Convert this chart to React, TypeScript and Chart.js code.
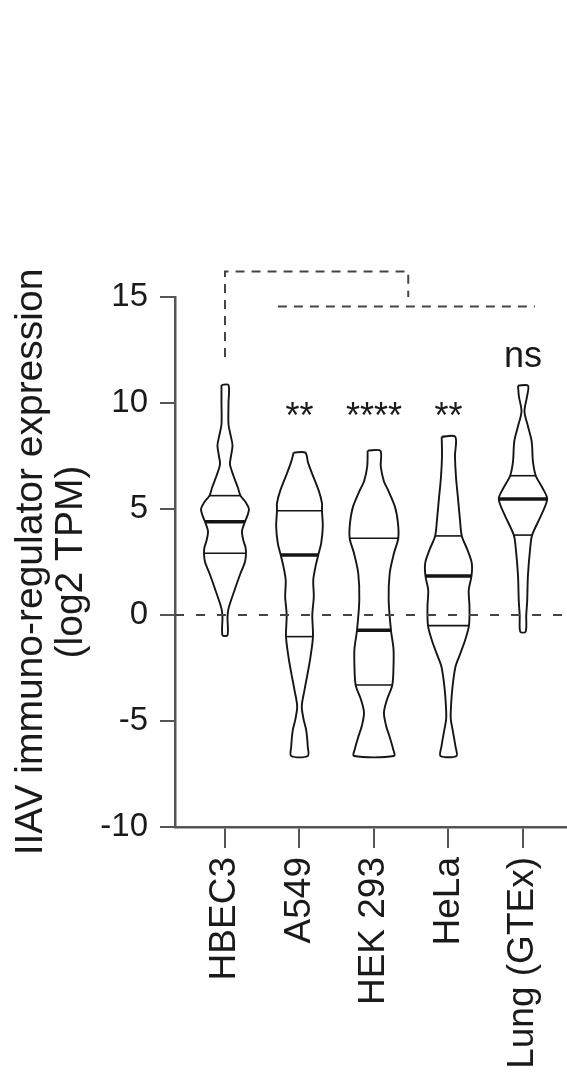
import React, { useEffect, useRef } from 'react';
import { Chart, registerables } from 'chart.js';

Chart.register(...registerables);

const FONT = "'Liberation Sans', Arial, Helvetica, sans-serif";

const categories = ['HBEC3', 'A549', 'HEK 293', 'HeLa', 'Lung (GTEx)'];
const yTickStep = 5;
const yMin = -10;
const yMax = 15;
const xMin = -0.671;
const xMax = 4.591;

// Violin outlines: levels (log2 TPM) and half-widths (category units)
const hbec3Levels = [10.85, 10.0, 9.0, 8.5, 8.0, 7.5, 7.1, 6.5, 6.0, 5.63, 5.3, 5.0, 4.7, 4.4, 3.95, 3.5, 3.2, 2.91, 2.5, 1.9, 1.1, 0.3, -0.1, -0.95];
const hbec3Widths = [0.047, 0.047, 0.047, 0.074, 0.101, 0.081, 0.067, 0.121, 0.174, 0.208, 0.282, 0.322, 0.302, 0.268, 0.228, 0.248, 0.275, 0.282, 0.268, 0.201, 0.121, 0.047, 0.034, 0.034];

const a549Levels = [7.66, 7.2, 6.68, 5.9, 5.28, 4.92, 4.17, 3.38, 2.83, 2.28, 1.65, 0.86, 0, -1.02, -1.97, -2.8, -3.54, -4.3, -4.9, -5.45, -6.2, -6.65];
const a549Widths = [0.078, 0.114, 0.168, 0.255, 0.302, 0.302, 0.313, 0.291, 0.252, 0.215, 0.185, 0.192, 0.172, 0.181, 0.148, 0.107, 0.067, 0.031, 0.054, 0.091, 0.111, 0.111];

const hekLevels = [7.75, 7.0, 6.3, 5.9, 5.1, 4.33, 3.62, 2.91, 1.97, 0.7, -0.72, -1.6, -2.44, -3.3, -4.0, -4.6, -5.2, -5.8, -6.3, -6.65];
const hekWidths = [0.085, 0.091, 0.134, 0.188, 0.282, 0.322, 0.326, 0.268, 0.211, 0.197, 0.228, 0.262, 0.262, 0.246, 0.174, 0.134, 0.161, 0.215, 0.255, 0.268];

const helaLevels = [8.41, 7.5, 6.5, 5.42, 4.5, 3.73, 3.07, 2.44, 1.84, 1.18, 0.39, -0.5, -1.18, -1.8, -2.44, -3.4, -4.3, -4.9, -5.5, -6.2, -6.65];
const helaWidths = [0.091, 0.087, 0.101, 0.130, 0.154, 0.179, 0.255, 0.313, 0.309, 0.272, 0.282, 0.275, 0.224, 0.161, 0.094, 0.054, 0.034, 0.031, 0.060, 0.094, 0.107];

const lungLevels = [10.82, 10.3, 9.6, 8.9, 8.18, 7.23, 6.57, 5.98, 5.47, 4.72, 3.77, 3.15, 1.89, 0.63, 0, -0.79];
const lungWidths = [0.067, 0.054, 0.020, 0.067, 0.117, 0.134, 0.172, 0.264, 0.325, 0.246, 0.123, 0.097, 0.067, 0.056, 0.044, 0.036];

// Quartiles [Q1, median, Q3] and their half-widths
const quartileValues = [
  [2.91, 4.4, 5.63],
  [-1.02, 2.83, 4.92],
  [-3.3, -0.72, 3.62],
  [-0.5, 1.84, 3.73],
  [3.77, 5.47, 6.57],
];
const quartileWidths = [
  [0.282, 0.268, 0.208],
  [0.181, 0.252, 0.302],
  [0.246, 0.228, 0.326],
  [0.275, 0.309, 0.179],
  [0.123, 0.325, 0.172],
];

// Significance labels
const sigLabels = ['', '**', '****', '**', 'ns'];
const sigLevels = [0, 8.8, 8.8, 8.8, 11.7];

// Comparison brackets
const bracketAX = [0, 0, 2.46, 2.46];
const bracketAY = [12.17, 16.2, 16.2, 15.0];
const bracketBX = [0.71, 4.16];
const bracketBY = [14.55, 14.55];

const violinLevels = [hbec3Levels, a549Levels, hekLevels, helaLevels, lungLevels];
const violinWidths = [hbec3Widths, a549Widths, hekWidths, helaWidths, lungWidths];

function outline(i: number, levels: number[], widths: number[]) {
  const left = levels.map((y, k) => ({ x: i - widths[k], y }));
  const right = levels.map((y, k) => ({ x: i + widths[k], y })).reverse();
  return [...left, ...right, left[0]];
}

const textPlugin = {
  id: 'sigText',
  afterDatasetsDraw(chart: any) {
    const { ctx, scales } = chart;
    ctx.save();
    ctx.font = `36px ${FONT}`;
    ctx.fillStyle = '#1a1a1a';
    ctx.textAlign = 'center';
    ctx.textBaseline = 'alphabetic';
    sigLabels.forEach((t, i) => {
      if (!t) return;
      ctx.fillText(t, scales.x.getPixelForValue(i), scales.y.getPixelForValue(sigLevels[i]));
    });
    ctx.restore();
  },
};

export default function App() {
  const ref = useRef<HTMLCanvasElement>(null);
  useEffect(() => {
    if (!ref.current) return;
    const datasets: any[] = [];
    datasets.push({
      data: [{ x: xMin, y: 0 }, { x: xMax, y: 0 }],
      showLine: true,
      borderColor: '#444',
      borderWidth: 2,
      borderDash: [9, 12],
      pointRadius: 0,
    });
    categories.forEach((_, i) => {
      datasets.push({
        data: outline(i, violinLevels[i], violinWidths[i]),
        showLine: true,
        borderColor: '#151515',
        borderWidth: 1.9,
        pointRadius: 0,
        tension: 0.3,
        fill: false,
      });
      quartileValues[i].forEach((q, k) => {
        const w = quartileWidths[i][k];
        datasets.push({
          data: [{ x: i - w, y: q }, { x: i + w, y: q }],
          showLine: true,
          borderColor: '#151515',
          borderWidth: k === 1 ? 3.4 : 1.6,
          pointRadius: 0,
        });
      });
    });
    [[bracketAX, bracketAY], [bracketBX, bracketBY]].forEach(([bx, by]) => {
      datasets.push({
        data: bx.map((x, k) => ({ x, y: by[k] })),
        showLine: true,
        borderColor: '#444',
        borderWidth: 2,
        borderDash: [9, 7],
        pointRadius: 0,
        clip: false,
      });
    });

    const chart = new Chart(ref.current, {
      type: 'scatter',
      data: { datasets },
      plugins: [textPlugin],
      options: {
        responsive: false,
        devicePixelRatio: 1,
        animation: false,
        layout: { padding: { top: 297, left: 0, right: 0, bottom: 0 } },
        plugins: { legend: { display: false }, tooltip: { enabled: false } },
        scales: {
          x: {
            type: 'linear',
            min: xMin,
            max: xMax,
            afterBuildTicks: (s: any) => {
              s.ticks = categories.map((_, i) => ({ value: i }));
            },
            afterFit: (s: any) => {
              s.height = 252;
              s.paddingLeft = 0;
              s.paddingRight = 0;
            },
            ticks: {
              autoSkip: false,
              minRotation: 90,
              maxRotation: 90,
              padding: 9,
              color: '#1a1a1a',
              font: { family: FONT, size: 37 },
              callback: (v: any) => categories[v] ?? '',
            },
            grid: {
              drawOnChartArea: false,
              drawTicks: true,
              tickLength: 21,
              color: '#555',
              lineWidth: 2,
            },
            border: { display: true, color: '#555', width: 2.5 },
          },
          y: {
            type: 'linear',
            min: yMin,
            max: yMax,
            afterFit: (s: any) => {
              s.width = 175;
              s.paddingTop = 0;
              s.paddingBottom = 0;
            },
            ticks: {
              stepSize: yTickStep,
              padding: 12,
              color: '#1a1a1a',
              font: { family: FONT, size: 33 },
            },
            grid: {
              drawOnChartArea: false,
              drawTicks: true,
              tickLength: 15,
              color: '#555',
              lineWidth: 2,
            },
            border: { display: true, color: '#555', width: 2.5 },
            title: {
              display: true,
              text: ['IIAV immuno-regulator expression', '(log2 TPM)'],
              color: '#1a1a1a',
              font: { family: FONT, size: 39, lineHeight: 1.03 },
              padding: { top: 11, bottom: 0 },
            },
          },
        },
      } as any,
    });
    return () => chart.destroy();
  }, []);
  return (
    <div style={{ position: 'absolute', left: 0, top: 0, width: 567, height: 1079, background: '#fff' }}>
      <canvas ref={ref} width={567} height={1079} style={{ display: 'block' }} />
    </div>
  );
}
